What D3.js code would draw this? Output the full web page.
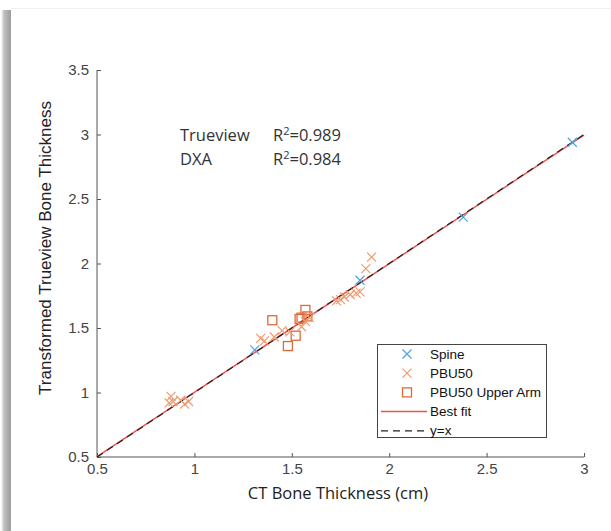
<!DOCTYPE html>
<html>
<head>
<meta charset="utf-8">
<script src="https://cdn.jsdelivr.net/npm/d3@7"></script>
<style>
  html, body { margin: 0; padding: 0; background: #fff; }
  svg { display: block; }
</style>
</head>
<body>
<svg width="611" height="531"></svg>
<script>
// data (cm)
var spineX = [1.31, 1.85, 2.38, 2.94];
var spineY = [1.33, 1.87, 2.36, 2.94];

var pbuX = [0.87, 0.88, 0.89, 0.93, 0.95, 0.97,
            1.34, 1.36, 1.41, 1.45, 1.49, 1.55, 1.57, 1.59,
            1.73, 1.75, 1.77, 1.80, 1.83, 1.85, 1.88, 1.91];
var pbuY = [0.92, 0.97, 0.93, 0.94, 0.91, 0.93,
            1.42, 1.40, 1.43, 1.48, 1.47, 1.51, 1.55, 1.58,
            1.71, 1.72, 1.74, 1.76, 1.77, 1.78, 1.96, 2.05];

var armX = [1.40, 1.48, 1.52, 1.54, 1.55, 1.57, 1.58];
var armY = [1.56, 1.36, 1.44, 1.57, 1.58, 1.64, 1.59];

var fitX = [0.5, 3.0];
var fitY = [0.502, 2.996];
var idX = [0.5, 3.0];

var xTicks = [0.5, 1, 1.5, 2, 2.5, 3];
var yTicks = [0.5, 1, 1.5, 2, 2.5, 3, 3.5];

var legendNames = ["Spine", "PBU50", "PBU50 Upper Arm", "Best fit", "y=x"];
var notes = [["Trueview", "0.989"], ["DXA", "0.984"]];

var blue = "#4da3dc", orange = "#ef9a70", dark = "#de6a3a";

var svg = d3.select("svg");

// card with soft shadow on the left
var defs = svg.append("defs");
var grad = defs.append("linearGradient").attr("id", "shade");
grad.append("stop").attr("offset", "0").attr("stop-color", "#fff");
grad.append("stop").attr("offset", "0.3").attr("stop-color", "#c0c0c0");
grad.append("stop").attr("offset", "1").attr("stop-color", "#9c9c9c");
svg.append("rect").attr("x", 1).attr("y", 10).attr("width", 10).attr("height", 521)
    .attr("fill", "url(#shade)");
svg.append("line").attr("x1", 11).attr("x2", 611).attr("y1", 8.5).attr("y2", 8.5)
    .attr("stroke", "#f0f0f0");

var x = d3.scaleLinear().domain([0.5, 3]).range([97, 584]);
var y = d3.scaleLinear().domain([0.5, 3.5]).range([457, 70]);

var font = "Helvetica, Arial, 'Liberation Sans', sans-serif";

// axes, MATLAB style with inward ticks
var xAxis = svg.append("g").attr("transform", "translate(0,457)")
    .call(d3.axisBottom(x).tickValues(xTicks).tickSize(-4).tickPadding(6)
      .tickFormat(d3.format("~g")));
var yAxis = svg.append("g").attr("transform", "translate(97,0)")
    .call(d3.axisLeft(y).tickValues(yTicks).tickSize(-4).tickPadding(8)
      .tickFormat(d3.format("~g")));

[xAxis, yAxis].forEach(function(a) {
  a.selectAll(".tick line").attr("stroke", "#555");
  a.selectAll(".tick text").attr("fill", "#444").style("font-family", font).style("font-size", "15px");
});
xAxis.select(".domain").attr("stroke", "#555").attr("d", "M97,0H584");
yAxis.select(".domain").attr("stroke", "#555").attr("d", "M0,457V70");

// axis labels
svg.append("text").attr("x", 338).attr("y", 499).attr("text-anchor", "middle")
    .style("font-family", "'Open Sans', sans-serif").style("font-size", "16.5px").attr("fill", "#222")
    .text("CT Bone Thickness (cm)");
svg.append("text").attr("transform", "translate(51,248) rotate(-90)").attr("text-anchor", "middle")
    .style("font-family", font).style("font-size", "17px").attr("fill", "#222")
    .text("Transformed Trueview Bone Thickness");

// lines
var line = d3.line().x(function(d) { return x(d[0]); }).y(function(d) { return y(d[1]); });
svg.append("path").datum(d3.zip(fitX, fitY)).attr("d", line)
    .attr("stroke", "#f05050").attr("stroke-width", 1.5).attr("fill", "none");
svg.append("path").datum(d3.zip(idX, idX)).attr("d", line)
    .attr("stroke", "#222").attr("stroke-width", 1.2).attr("stroke-dasharray", "7,5").attr("fill", "none");

// markers
function cross(g, cx, cy, col) {
  g.append("path").attr("d", "M" + (cx - 4.5) + "," + (cy - 4.5) + "L" + (cx + 4.5) + "," + (cy + 4.5) +
    "M" + (cx - 4.5) + "," + (cy + 4.5) + "L" + (cx + 4.5) + "," + (cy - 4.5))
    .attr("stroke", col).attr("stroke-width", 1.2).attr("fill", "none");
}
function square(g, cx, cy, col) {
  g.append("rect").attr("x", cx - 4.5).attr("y", cy - 4.5).attr("width", 9).attr("height", 9)
    .attr("stroke", col).attr("stroke-width", 1.3).attr("fill", "none");
}

var pts = svg.append("g");
armX.forEach(function(v, i) { square(pts, x(v), y(armY[i]), dark); });
pbuX.forEach(function(v, i) { cross(pts, x(v), y(pbuY[i]), orange); });
spineX.forEach(function(v, i) { cross(pts, x(v), y(spineY[i]), blue); });

// annotation
var ann = svg.append("g").style("font-family", "'Open Sans', sans-serif").style("font-size", "16.5px").attr("fill", "#333");
notes.forEach(function(n, i) {
  var by = 141 + i * 24;
  ann.append("text").attr("x", 180).attr("y", by).text(n[0]);
  var t = ann.append("text").attr("x", 273).attr("y", by);
  t.append("tspan").text("R");
  t.append("tspan").attr("dy", -6).style("font-size", "11px").text("2");
  t.append("tspan").attr("dy", 6).text("=" + n[1]);
});

// legend
var lg = svg.append("g");
lg.append("rect").attr("x", 377.5).attr("y", 344.5).attr("width", 169).attr("height", 93)
    .attr("fill", "#fff").attr("stroke", "#444").attr("stroke-width", 1);
legendNames.forEach(function(name, i) {
  var ly = 354 + i * 19.2;
  if (i === 0) cross(lg, 407, ly, blue);
  if (i === 1) cross(lg, 407, ly, orange);
  if (i === 2) square(lg, 407, ly, dark);
  if (i === 3) lg.append("line").attr("x1", 381).attr("x2", 427).attr("y1", ly).attr("y2", ly)
      .attr("stroke", "#f05050").attr("stroke-width", 1.5);
  if (i === 4) lg.append("line").attr("x1", 381).attr("x2", 427).attr("y1", ly).attr("y2", ly)
      .attr("stroke", "#222").attr("stroke-width", 1.2).attr("stroke-dasharray", "7,5");
  lg.append("text").attr("x", 430).attr("y", ly + 4.5).style("font-family", font)
    .style("font-size", "13.5px").attr("fill", "#111").text(name);
});
</script>
</body>
</html>
